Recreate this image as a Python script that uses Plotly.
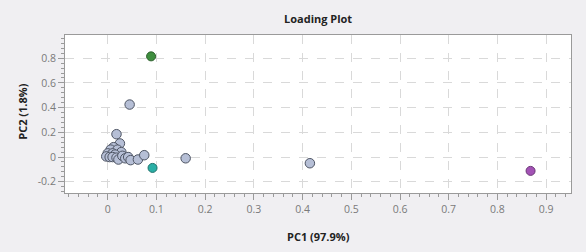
import plotly.graph_objects as go

# Gray loading points
gray_x = [0.045, 0.018, 0.025, 0.012, 0.006, 0.020, 0.028, 0.000, 0.010, 0.015,
          -0.003, 0.004, 0.010, 0.018, 0.022, 0.030, 0.036, 0.042, 0.047, 0.062,
          0.075, 0.160, 0.415]
gray_y = [0.425, 0.185, 0.110, 0.080, 0.060, 0.060, 0.040, 0.030, 0.030, 0.020,
          0.005, 0.000, 0.000, -0.005, -0.020, 0.010, -0.010, 0.000, -0.025, -0.020,
          0.015, -0.010, -0.050]
green_pt = (0.089, 0.815)
teal_pt = (0.092, -0.088)
purple_pt = (0.868, -0.112)

x_ticks = [0, 0.1, 0.2, 0.3, 0.4, 0.5, 0.6, 0.7, 0.8, 0.9]
y_ticks = [-0.2, 0, 0.2, 0.4, 0.6, 0.8]
y_ticklabels = ["-0.2", "0", "0.2", "0.4", "0.6", "0.8"]

fig = go.Figure()
fig.add_trace(go.Scatter(x=gray_x, y=gray_y, mode="markers",
                         marker=dict(size=9.5, color="#B6BFD6",
                                     line=dict(color="#4E5564", width=1))))
for (px, py), col, lc in [(green_pt, "#3E8E3E", "#2A5E2A"),
                          (teal_pt, "#2AAFA6", "#1C716B"),
                          (purple_pt, "#A352B5", "#6A3576")]:
    fig.add_trace(go.Scatter(x=[px], y=[py], mode="markers",
                             marker=dict(size=9, color=col, line=dict(color=lc, width=1))))

font_fam = "Open Sans, Noto Sans, sans-serif"
W, H = 586, 252
L, R, T, B = 65, 15, 35, 58.5
fig.update_layout(
    width=W, height=H,
    margin=dict(l=L, r=R, t=T, b=B, autoexpand=False),
    paper_bgcolor="#F0EFF2", plot_bgcolor="#FFFFFF",
    showlegend=False,
    xaxis=dict(range=[-0.0877, 0.951], tickvals=x_ticks,
               ticktext=[str(v) for v in x_ticks], automargin=False,
               showgrid=True, gridcolor="#D9D9D9", griddash="dash", gridwidth=1,
               zeroline=False, showline=True, linecolor="#9A9A9A", mirror=True,
               ticks="outside", ticklen=6, tickcolor="#9A9A9A",
               minor=dict(dtick=0.02, ticks="outside", ticklen=3, tickcolor="#9A9A9A", showgrid=False),
               tickfont=dict(family=font_fam, size=10.5, color="#7A7A7A")),
    yaxis=dict(range=[-0.291, 0.988], tickvals=y_ticks, ticktext=y_ticklabels, automargin=False,
               showgrid=True, gridcolor="#D9D9D9", griddash="dash", gridwidth=1,
               zeroline=False, showline=True, linecolor="#9A9A9A", mirror=True,
               ticks="outside", ticklen=6, tickcolor="#9A9A9A",
               minor=dict(dtick=0.04, ticks="outside", ticklen=3, tickcolor="#9A9A9A", showgrid=False),
               tickfont=dict(family=font_fam, size=10.5, color="#7A7A7A")),
    annotations=[
        dict(text="<b>Loading Plot</b>", xref="paper", yref="paper",
             x=(318 - L) / (W - L - R), y=1 + (T - 18) / (H - T - B),
             xanchor="center", yanchor="middle", showarrow=False,
             font=dict(family=font_fam, size=11, color="#222222")),
        dict(text="<b>PC1 (97.9%)</b>", xref="paper", yref="paper",
             x=(318 - L) / (W - L - R), y=-(237 - (H - B)) / (H - T - B),
             xanchor="center", yanchor="middle", showarrow=False,
             font=dict(family=font_fam, size=11, color="#222222")),
        dict(text="<b>PC2 (1.8%)</b>", xref="paper", yref="paper", textangle=-90,
             x=-(L - 23) / (W - L - R), y=1 - (112 - T) / (H - T - B),
             xanchor="center", yanchor="middle", showarrow=False,
             font=dict(family=font_fam, size=11, color="#222222")),
    ],
)
fig.write_html("out.html", config={"displayModeBar": False},
               post_script="document.body.style.margin='0px';document.body.style.overflow='hidden';")
